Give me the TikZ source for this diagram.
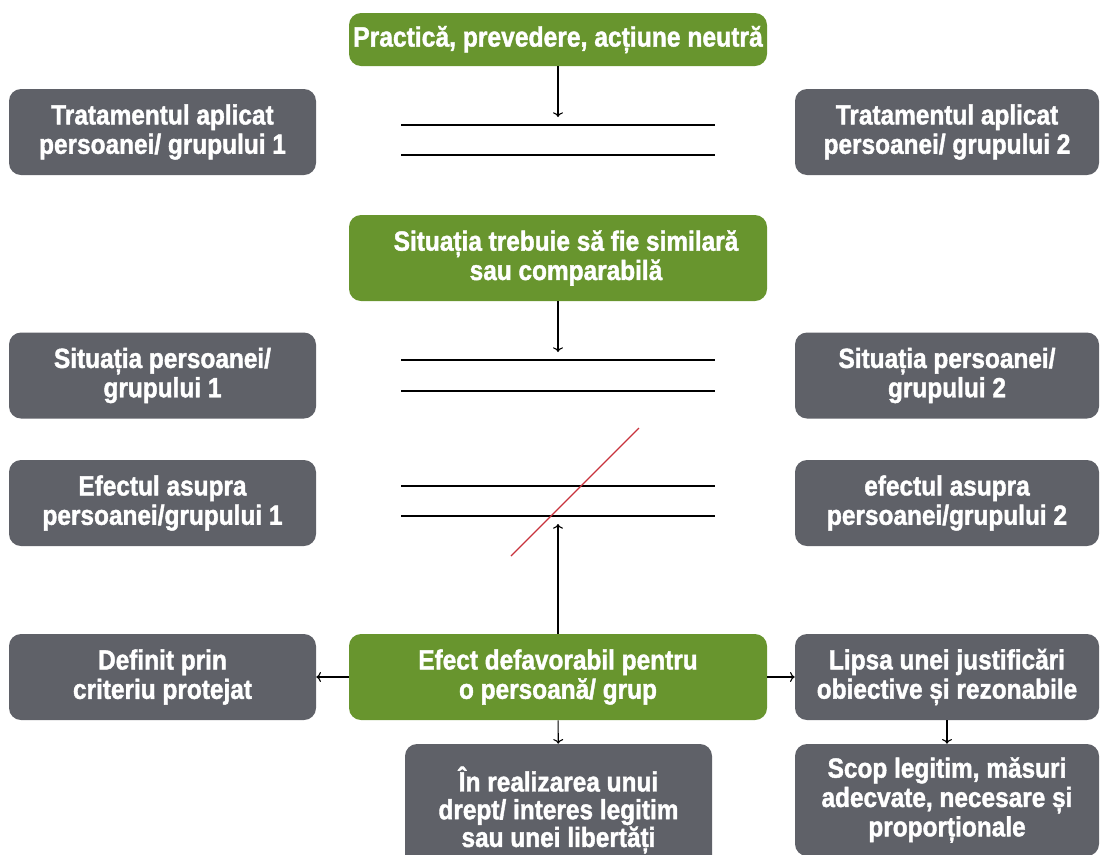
\documentclass[tikz,border=0pt]{standalone}
\usepackage{fontspec}
\setmainfont{Liberation Sans}
\newfontfamily\boxfont{Liberation Sans Bold}[FakeStretch=0.88, FakeBold=1.5]
\usetikzlibrary{calc,positioning,arrows.meta}
\definecolor{boxgreen}{HTML}{68952E}
\definecolor{boxgray}{HTML}{5F6168}
\definecolor{crossred}{HTML}{C8323C}

\begin{document}
\begin{tikzpicture}[%
    x=0.75pt, y=-0.75pt,
    >={To[length=3.5pt, width=7.5pt]},
    box/.style={%
        rounded corners=9pt,
        text=white,
        align=center,
        inner sep=0pt,
        font=\boxfont\fontsize{20.8}{22}\selectfont,
    },
    prem/.style={box, fill=boxgreen, minimum width=313.5pt, minimum height=64.5pt},
    side/.style={box, fill=boxgray, minimum width=230.25pt, minimum height=64.5pt},
    sider/.style={side, minimum width=228pt},
    link/.style={->, line width=0.8pt},
    rule/.style={line width=1pt},
]
\clip (0,0) rectangle (1100,854);
    \node[prem, minimum height=39.75pt, font=\boxfont\fontsize{21}{24}\selectfont] (practica) at (558,39.5) {Practică, prevedere, acțiune neutră};
    \node[side] (trat1) at (162.5,132) {Tratamentul aplicat\\persoanei/ grupului 1};
    \node[sider] (trat2) at (947,132) {Tratamentul aplicat\\persoanei/ grupului 2};
    \node[prem] (situatia) at (558,258) {\hspace{12pt}Situația trebuie să fie similară\\\hspace{12pt}sau comparabilă};
    \node[side] (sit1) at (162.5,375.5) {Situația persoanei/\\grupului 1};
    \node[sider] (sit2) at (947,375.5) {Situația persoanei/\\grupului 2};
    \node[side] (ef1) at (162.5,503) {Efectul asupra\\persoanei/grupului 1};
    \node[sider] (ef2) at (947,503) {efectul asupra\\persoanei/grupului 2};
    \node[prem] (efect) at (558,677) {Efect defavorabil pentru\\o persoană/ grup};
    \node[side] (criteriu) at (162.5,677) {Definit prin\\criteriu protejat};
    \node[sider] (lipsa) at (947,677) {Lipsa unei justificări\\obiective și rezonabile};
    \node[side, minimum height=99pt, font=\boxfont\fontsize{20.8}{20.8}\selectfont] (drept) at (558.5,810) {În realizarea unui\\drept/ interes legitim\\sau unei libertăți};
    \node[sider, minimum height=84pt] (scop) at (947,800) {Scop legitim, măsuri\\adecvate, necesare și\\proporționale};

    \foreach \y in {125,155,360,391,486,516}{%
        \draw[rule] (401,\y) -- (715,\y);
    }
    \draw[crossred, line width=1pt] (511,556) -- (639,428);

    \coordinate (tip1) at (558,117);
    \coordinate (tip2) at (558,352);
    \coordinate (tip3) at (558,524);
    \draw[link] (practica) -- (tip1);
    \draw[link] (situatia) -- (tip2);
    \draw[link] (efect) -- (tip3);
    \draw[link] (efect) -- (criteriu);
    \draw[link] (efect) -- (lipsa);
    \draw[link] (efect) -- (drept);
    \draw[link] (lipsa) -- (scop);
\end{tikzpicture}
\end{document}
